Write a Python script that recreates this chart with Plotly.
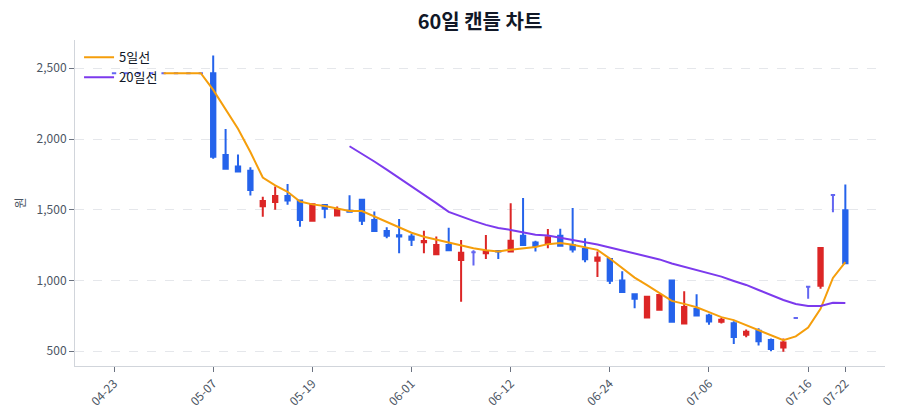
import plotly.graph_objects as go
import pandas as pd

dates = [
    "04-23", "04-24", "04-25", "04-26", "04-29", "04-30", "05-02", "05-03", "05-07",
    "05-08", "05-09", "05-10", "05-13", "05-14", "05-16", "05-17", "05-19",
    "05-21", "05-22", "05-23", "05-24", "05-27", "05-28", "05-29", "06-01",
    "06-03", "06-04", "06-05", "06-07", "06-08", "06-10", "06-11", "06-12",
    "06-13", "06-14", "06-17", "06-18", "06-19", "06-20", "06-21", "06-24",
    "06-25", "06-26", "06-27", "06-28", "07-01", "07-02", "07-03", "07-06",
    "07-08", "07-09", "07-10", "07-11", "07-12", "07-13", "07-15", "07-16",
    "07-17", "07-19", "07-22",
]
opens = [2465, 2465, 2465, 2465, 2465, 2465, 2465, 2465, 2465, 1887,
         1805, 1775, 1525, 1555, 1597, 1565, 1422, 1533, 1460, 1493,
         1570, 1428, 1350, 1320, 1310, 1270, 1185, 1251, 1144, 1200,
         1193, 1208, 1205, 1316, 1268, 1262, 1316, 1250, 1223, 1140,
         1152, 1000, 902, 738, 792, 1000, 695, 798, 752, 707,
         697, 616, 645, 578, 525, 735, 955, 962, 1604, 1497]
highs = [2465, 2465, 2465, 2465, 2465, 2465, 2465, 2465, 2590, 2070,
         1890, 1800, 1592, 1665, 1682, 1568, 1540, 1535, 1522, 1602,
         1572, 1488, 1376, 1434, 1330, 1352, 1310, 1373, 1286, 1213,
         1321, 1210, 1545, 1582, 1280, 1363, 1365, 1512, 1298, 1205,
         1155, 1065, 905, 887, 899, 1002, 923, 902, 765, 735,
         712, 653, 662, 590, 590, 735, 955, 1232, 1604, 1678]
lows = [2465, 2465, 2465, 2465, 2465, 2465, 2465, 2465, 1860, 1785,
        1765, 1600, 1450, 1500, 1535, 1380, 1415, 1440, 1458, 1482,
        1392, 1348, 1298, 1192, 1243, 1192, 1183, 1212, 850, 1105,
        1152, 1152, 1203, 1248, 1205, 1227, 1243, 1197, 1128, 1025,
        975, 916, 803, 735, 790, 705, 693, 748, 686, 695,
        550, 598, 540, 500, 495, 735, 870, 942, 1482, 1120]
closes = [2465, 2465, 2465, 2465, 2465, 2465, 2465, 2465, 1875, 1790,
          1770, 1640, 1562, 1597, 1565, 1427, 1538, 1507, 1502, 1485,
          1422, 1350, 1316, 1310, 1288, 1279, 1251, 1214, 1196, 1200,
          1206, 1204, 1280, 1250, 1244, 1305, 1245, 1218, 1150, 1162,
          998, 918, 870, 885, 897, 707, 812, 752, 710, 722,
          600, 638, 570, 516, 562, 735, 955, 1230, 1604, 1122]
tick_labels = ["04-23", "05-07", "05-19", "06-01", "06-12", "06-24", "07-06", "07-16", "07-22"]

df = pd.DataFrame({"date": dates, "open": opens, "high": highs, "low": lows, "close": closes})
ma5 = df["close"].rolling(5).mean()
ma20 = df["close"].rolling(20).mean()

UP = "#dc2626"
DOWN = "#2563eb"
FLAT = "#6366f1"

fig = go.Figure()
groups = [
    (df[df["close"] > df["open"]], UP),
    (df[df["close"] < df["open"]], DOWN),
    (df[df["close"] == df["open"]], FLAT),
]
for sub, col in groups:
    fig.add_trace(go.Candlestick(
        x=sub["date"], open=sub["open"], high=sub["high"], low=sub["low"], close=sub["close"],
        increasing=dict(line=dict(color=col, width=2), fillcolor=col),
        decreasing=dict(line=dict(color=col, width=2), fillcolor=col),
        showlegend=False, hoverinfo="skip",
    ))

fig.add_trace(go.Scatter(x=df["date"], y=ma5, mode="lines", name="5일선",
                         line=dict(color="#f59e0b", width=2)))
fig.add_trace(go.Scatter(x=df["date"], y=ma20, mode="lines", name="20일선",
                         line=dict(color="#7c3aed", width=2)))

font_family = "Noto Sans CJK KR, Noto Sans, sans-serif"
fig.update_layout(
    width=900, height=420,
    margin=dict(l=75, r=15, t=40, b=54),
    paper_bgcolor="white", plot_bgcolor="white",
    font=dict(family=font_family, size=12, color="#4b5563"),
    title=dict(text="60일 캔들 차트", x=0.5, xref="paper", xanchor="center",
               y=1 - 22 / 420, yref="container", yanchor="middle",
               font=dict(size=20, color="#111827", weight="bold")),
    boxgap=0.5,
    legend=dict(x=0.005, y=0.993, xanchor="left", yanchor="top", bgcolor="rgba(0,0,0,0)",
                tracegroupgap=0, font=dict(size=13, color="#111827")),
    xaxis=dict(type="category", categoryorder="array", categoryarray=dates,
               range=[-3.15, 62.2], tickmode="array", tickvals=tick_labels, ticktext=tick_labels,
               tickangle=-45, showgrid=False, showline=True, linecolor="#d1d5db", linewidth=1,
               ticks="outside", ticklen=5, tickcolor="#6b7280", rangeslider=dict(visible=False),
               tickfont=dict(size=12, color="#4b5563")),
    yaxis=dict(range=[395, 2700], dtick=500, tick0=500, tickformat=",",
               showgrid=True, gridcolor="#e5e7eb", griddash="dash", gridwidth=1,
               zeroline=False, showline=True, linecolor="#d1d5db", linewidth=1,
               ticks="outside", ticklen=5, tickcolor="#6b7280",
               tickfont=dict(size=12, color="#4b5563"),
               title=dict(text="원", font=dict(size=12, color="#4b5563"), standoff=8)),
)

fig.write_html("out.html")
